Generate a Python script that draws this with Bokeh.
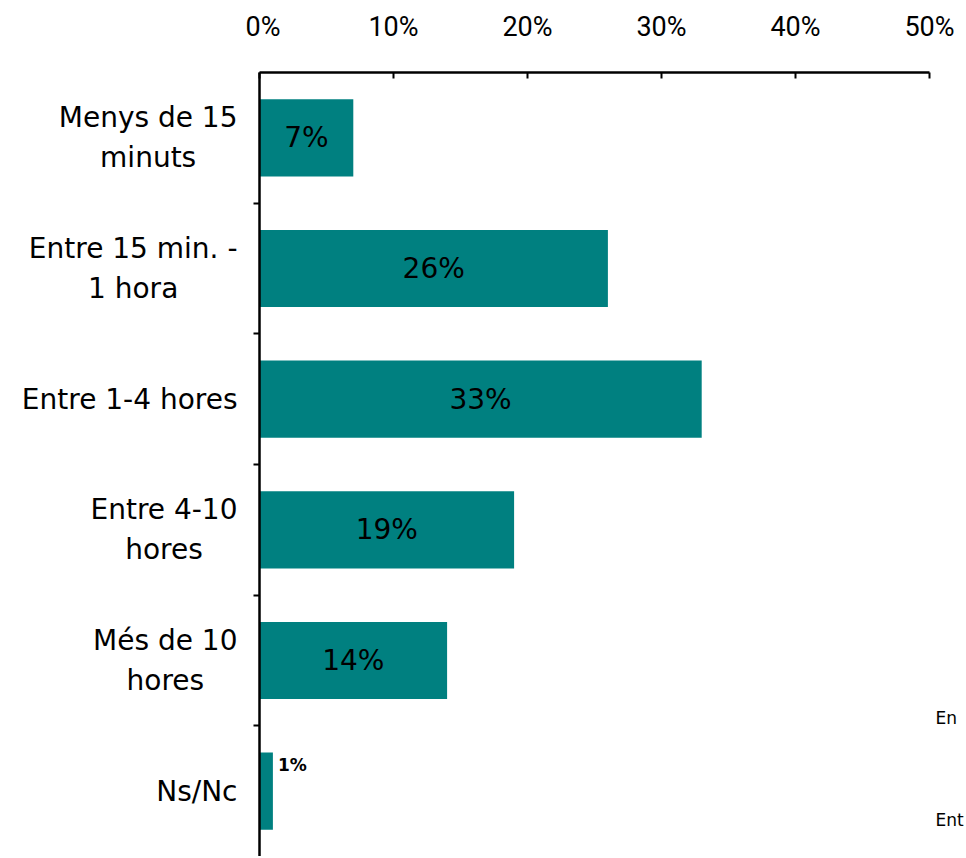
from bokeh.plotting import figure
from bokeh.layouts import row
from bokeh.models import (Range1d, FixedTicker, NumeralTickFormatter,
                          ColumnDataSource, LinearAxis)
from bokeh.core.properties import value
from bokeh.embed import file_html
from bokeh.resources import INLINE

# ---- data ----
categories = ["Menys de 15\nminuts", "Entre 15 min. -\n1 hora", "Entre 1-4 hores",
              "Entre 4-10\nhores", "Més de 10\nhores", "Ns/Nc"]
shares = [0.07, 0.26, 0.33, 0.19, 0.14, 0.01]
share_labels = ["7%", "26%", "33%", "19%", "14%", "1%"]
x_ticks = [0.0, 0.1, 0.2, 0.3, 0.4, 0.5]
stray_texts = ["En", "Ent"]          # clipped fragments at the right edge
stray_y = [1.06, 0.28]

TEAL = "#008080"
FONT = "DejaVu Sans"
n = len(categories)
ypos = [n - i - 0.5 for i in range(n)]     # one band per category, first on top
boundaries = list(range(1, n))

H = 856
W = 966
TOP = 72
LW = 245                                   # width of the category-label panel

yr = Range1d(0, n)

# ---- left panel with category labels (block right-aligned, lines centred) ----
lab = figure(width=LW, height=H, output_backend="svg", toolbar_location=None,
             x_range=Range1d(0, LW), y_range=yr, x_axis_type=None, y_axis_type=None,
             min_border_left=0, min_border_right=0, min_border_top=TOP,
             min_border_bottom=0)
lab.outline_line_color = None
lab.xgrid.visible = False
lab.ygrid.visible = False
lab.text(x=[237] * n, y=ypos, text=categories, anchor="center_right",
         text_align="center", text_baseline="middle", text_font=value(FONT),
         text_font_size="28px", text_line_height=1.22, text_color="black")

# ---- main chart ----
p = figure(width=W - LW, height=H, output_backend="svg", toolbar_location=None,
           y_range=yr, x_range=Range1d(0, 0.5), x_axis_location="above",
           min_border_left=259 - LW, min_border_right=30, min_border_top=TOP,
           min_border_bottom=0)
p.outline_line_color = None
p.xgrid.visible = False
p.ygrid.visible = False

xa = p.xaxis[0]
xa.ticker = FixedTicker(ticks=x_ticks)
xa.formatter = NumeralTickFormatter(format="0%")
xa.major_tick_in = 6
xa.major_tick_out = 0
xa.minor_tick_line_color = None
xa.axis_line_width = 2.5
xa.major_tick_line_width = 2
xa.major_label_standoff = 30
xa.major_label_text_font = "Roboto"
xa.major_label_text_font_size = "27px"
xa.major_label_text_color = "black"

ya = p.yaxis[0]
ya.ticker = FixedTicker(ticks=boundaries)
ya.major_label_overrides = {b: "" for b in boundaries}
ya.major_tick_out = 6
ya.major_tick_in = 0
ya.minor_tick_line_color = None
ya.axis_line_width = 2.5
ya.major_tick_line_width = 2
ya.major_label_standoff = 0

# right-side axis carrying only the two clipped text fragments
ra = LinearAxis(ticker=FixedTicker(ticks=stray_y),
                major_label_overrides=dict(zip(stray_y, stray_texts)))
ra.axis_line_color = None
ra.major_tick_line_color = None
ra.minor_tick_line_color = None
ra.major_tick_out = 0
ra.major_tick_in = 0
ra.major_label_standoff = 6
ra.major_label_text_font = FONT
ra.major_label_text_font_size = "17px"
ra.major_label_text_color = "black"
p.add_layout(ra, "right")

src = ColumnDataSource(dict(y=ypos, val=shares))
p.hbar(y="y", right="val", left=0, height=0.59, source=src,
       fill_color=TEAL, line_color=None)

inside = ColumnDataSource(dict(y=ypos[:-1], mid=[v / 2 for v in shares[:-1]],
                               lab=share_labels[:-1]))
p.text(x="mid", y="y", text="lab", source=inside, text_align="center",
       text_baseline="middle", text_font=value(FONT), text_font_size="28px",
       text_color="black")

outside = ColumnDataSource(dict(y=ypos[-1:], val=shares[-1:], lab=share_labels[-1:]))
p.text(x="val", y="y", text="lab", source=outside, x_offset=5, y_offset=-26,
       text_align="left", text_baseline="middle", text_font=value(FONT),
       text_font_size="17px", text_font_style="bold", text_color="black")

layout = row(lab, p, spacing=0)
open("out.html", "w").write(file_html(layout, INLINE))
